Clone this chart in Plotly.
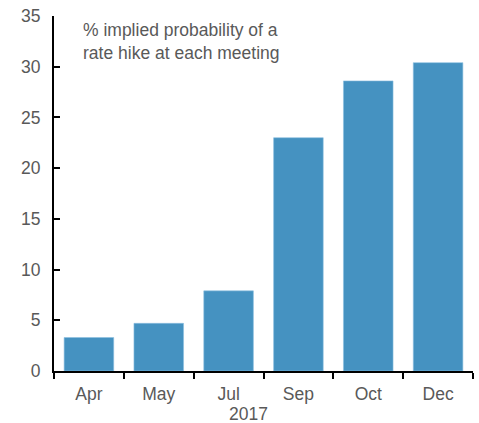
import plotly.graph_objects as go

months = ["Apr", "May", "Jul", "Sep", "Oct", "Dec"]
probability = [3.3, 4.7, 7.9, 23.0, 28.6, 30.4]
y_ticks = [0, 5, 10, 15, 20, 25, 30, 35]

fig = go.Figure()
fig.add_trace(go.Bar(
    x=months, y=probability,
    marker=dict(color="#4592c1", line=dict(color="#8cc0e0", width=0.6)),
    width=0.71,
))

font = dict(family="Liberation Sans, Arial, sans-serif", size=17.5, color="#595959")

fig.update_layout(
    width=479, height=423,
    margin=dict(l=54, r=6, t=16, b=52),
    paper_bgcolor="white", plot_bgcolor="white",
    showlegend=False,
    font=font,
    xaxis=dict(
        type="category", showline=True, linecolor="black", linewidth=2,
        ticks="outside", tickson="boundaries", ticklen=6, tickwidth=2, tickcolor="black",
        showgrid=False, tickfont=font, ticklabelstandoff=6,
    ),
    yaxis=dict(
        range=[0, 35], tickvals=y_ticks, showline=True, linecolor="black", linewidth=2,
        ticks="inside", ticklen=6, tickwidth=2, tickcolor="black",
        showgrid=False, zeroline=False, tickfont=font, ticklabelstandoff=8,
    ),
    annotations=[
        dict(text="% implied probability of a<br>rate hike at each meeting",
             xref="paper", yref="paper", x=0.065, y=0.995, xanchor="left", yanchor="top",
             showarrow=False, align="left", font=font),
        dict(text="2017", xref="paper", yref="paper", x=0.465, y=-0.088,
             xanchor="center", yanchor="top", showarrow=False, font=font),
    ],
)

fig.write_html("out.html")
